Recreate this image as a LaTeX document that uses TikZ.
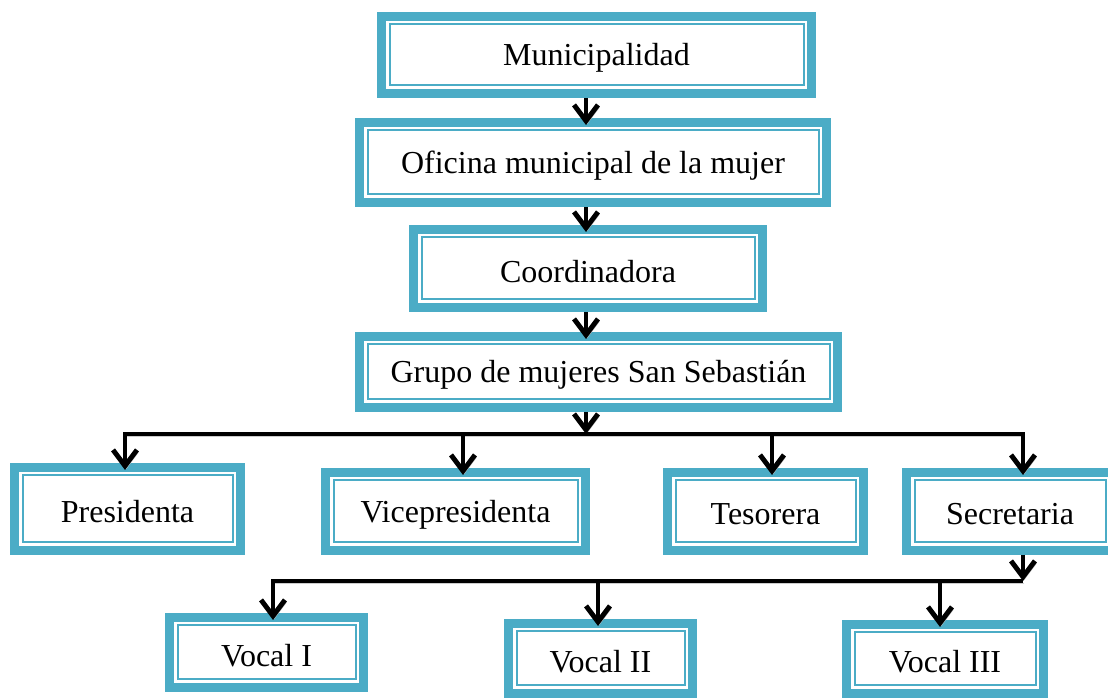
\documentclass[tikz,border=0pt]{standalone}
\usepackage{fontspec}
\setmainfont{Liberation Serif}
\usetikzlibrary{arrows.meta,calc}
\definecolor{boxc}{RGB}{75,172,198}
\tikzset{
  boxnode/.style={rectangle, inner sep=0pt, outer sep=0pt, fill=white, draw=none},
  boxtext/.style={inner sep=0pt, font=\fontsize{24}{28}\selectfont},
  outerband/.style={draw=boxc, line width=6.75pt},
  innerline/.style={draw=boxc, line width=1.5pt},
  conn/.style={line width=3.7pt, black, line join=miter,
    preaction={draw=black!20, transform canvas={shift={(1pt,-2pt)}}}},
  tipb/.tip={Straight Barb[length=12pt,width=18pt]},
  arr/.style={conn, -tipb},
}
\newcommand\obox[6]{%
  \pgfmathsetlengthmacro\bw{(#4-#2)*0.75pt}%
  \pgfmathsetlengthmacro\bh{(#5-#3)*0.75pt}%
  \node[boxnode, minimum width=\bw, minimum height=\bh] (#1) at ({(#2+#4)/2},{(#3+#5)/2}) {};
  \draw[outerband] ($(#1.north west)+(4.5,4.5)$) rectangle ($(#1.south east)+(-4.5,-4.5)$);
  \draw[innerline] ($(#1.north west)+(12.5,12.5)$) rectangle ($(#1.south east)+(-12.5,-12.5)$);
  \node[boxtext] (#1-t) at ($(#1.center)+(0,3)$) {#6};
}
\begin{document}
\begin{tikzpicture}[x=0.75pt,y=-0.75pt]
\useasboundingbox[fill=white] (0,0) rectangle (1108,698);
\obox{muni}{377}{12}{816}{98}{Municipalidad}
\obox{ofi}{355}{118}{831}{207}{Oficina municipal de la mujer}
\obox{coord}{409}{225}{767}{312}{Coordinadora}
\obox{grupo}{355}{332}{842}{412}{Grupo de mujeres San Sebastián}
\obox{pres}{10}{463}{245}{555}{Presidenta}
\obox{vice}{321}{468}{590}{555}{Vicepresidenta}
\obox{tes}{663}{468}{868}{555}{Tesorera}
\obox{sec}{902}{468}{1118}{555}{Secretaria}
\obox{v1}{165}{613}{368}{692}{Vocal I}
\obox{v2}{504}{619}{697}{698}{Vocal II}
\obox{v3}{842}{620}{1048}{698}{Vocal III}
% vertical chain
\coordinate (ax) at (586,0);
\draw[arr] (muni.south -| ax) -- ($(ofi.north -| ax)+(0,7)$);
\draw[arr] (ofi.south -| ax) -- ($(coord.north -| ax)+(0,7)$);
\draw[arr] (coord.south -| ax) -- ($(grupo.north -| ax)+(0,7)$);
% first branch
\coordinate (h1) at (586,434);
\coordinate (b1) at (125,434);
\coordinate (b2) at (463,434);
\coordinate (b3) at (772,434);
\coordinate (b4) at (1023,434);
\draw[arr] (grupo.south -| ax) -- (h1);
\draw[conn, tipb-tipb] ($(b1 |- pres.north)+(0,7)$) -- (b1) -- (b4) -- ($(b4 |- sec.north)+(0,7)$);
\draw[arr] (b2) -- ($(b2 |- vice.north)+(0,7)$);
\draw[arr] (b3) -- ($(b3 |- tes.north)+(0,7)$);
% second branch
\coordinate (s) at (1023,581);
\coordinate (l1) at (273,581);
\coordinate (l2) at (598,581);
\coordinate (l3) at (940,581);
\draw[arr] (sec.south -| s) -- (s);
\draw[arr] (s) -- (l1) -- ($(l1 |- v1.north)+(0,7)$);
\draw[arr] (l2) -- ($(l2 |- v2.north)+(0,7)$);
\draw[arr] (l3) -- ($(l3 |- v3.north)+(0,7)$);
\end{tikzpicture}
\end{document}
